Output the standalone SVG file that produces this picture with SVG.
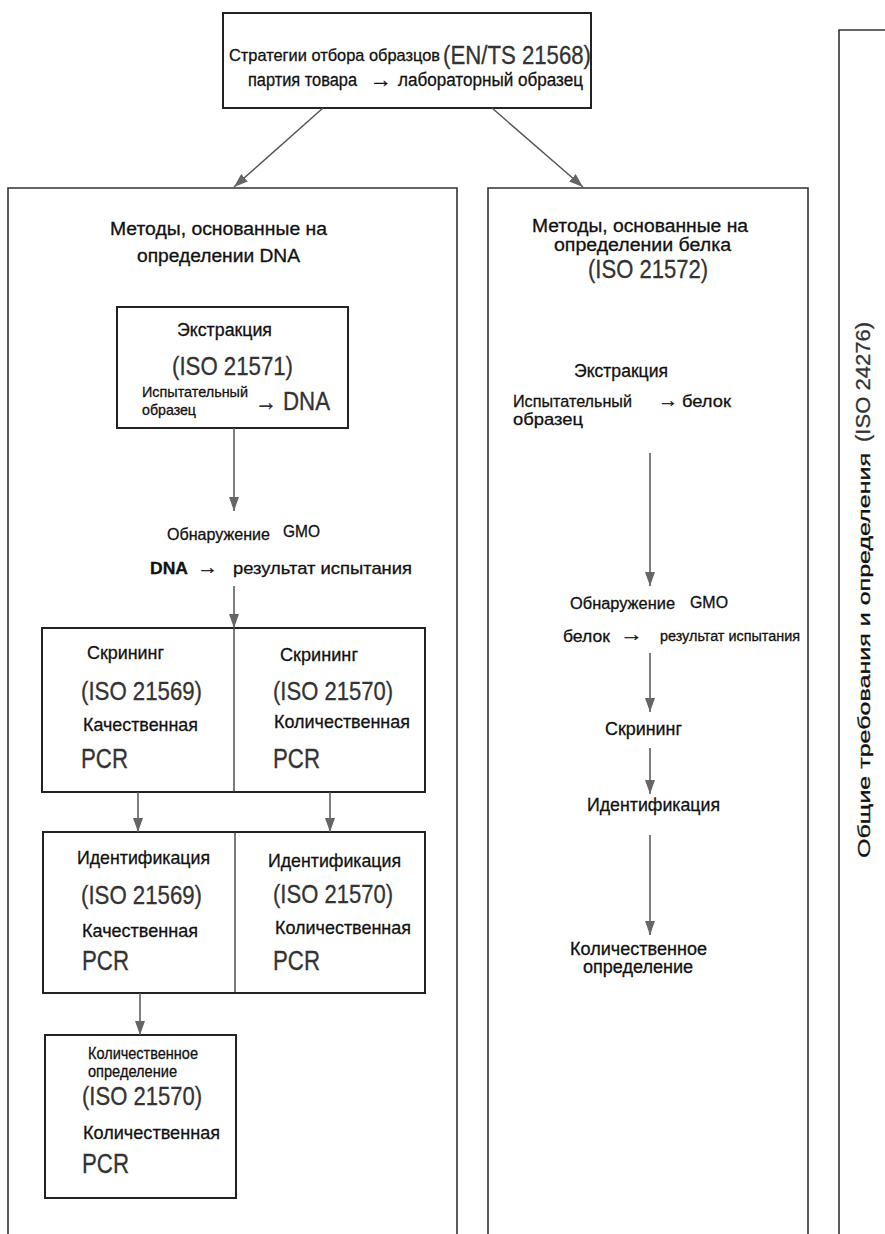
<svg xmlns="http://www.w3.org/2000/svg" width="885" height="1234" viewBox="0 0 885 1234">
<style>
text{font-family:"Liberation Sans",Arial,sans-serif;fill:#111;font-size:18px;stroke:#111;stroke-width:0.3}
.s14{font-size:14px}
.s15{font-size:15px}
.s16{font-size:16px}
.s17{font-size:17px}
.s19{font-size:19px}
.iso{font-size:25px;fill:#333;stroke:#333}
.pcr{font-size:27px;fill:#333;stroke:#333}
.box{fill:none;stroke:#222;stroke-width:2}
.frame{fill:none;stroke:#333;stroke-width:1.6}
.con line{stroke:#555;stroke-width:1.5;marker-end:url(#ah)}
.div{stroke:#333;stroke-width:1.3}
</style>
<defs>
<marker id="ah" markerUnits="userSpaceOnUse" markerWidth="14" markerHeight="10" refX="14" refY="5" orient="auto">
<path d="M0,0 L14,5 L0,10 z" fill="#666"/>
</marker>
</defs>
<rect width="885" height="1234" fill="#fff"/>

<g id="sampling">
<rect class="box" x="223" y="13" width="368" height="95"/>
<text class="s17" x="229" y="61" textLength="211" lengthAdjust="spacingAndGlyphs">Стратегии отбора образцов</text>
<text class="iso" x="443" y="64" textLength="148" lengthAdjust="spacingAndGlyphs">(EN/TS 21568)</text>
<text x="248" y="86" textLength="109" lengthAdjust="spacingAndGlyphs">партия товара</text>
<text x="370" y="87" style="font-size:22px" textLength="22" lengthAdjust="spacingAndGlyphs">→</text>
<text x="398" y="86" textLength="185" lengthAdjust="spacingAndGlyphs">лабораторный образец</text>
</g>

<g id="dna-methods">
<path class="frame" d="M8,1234 V188 H457 V1234"/>
<text x="110" y="235" textLength="217" lengthAdjust="spacingAndGlyphs">Методы, основанные на</text>
<text x="137" y="262" textLength="163" lengthAdjust="spacingAndGlyphs">определении DNA</text>
</g>

<g id="dna-extraction">
<rect class="box" x="117" y="307" width="231" height="121"/>
<text x="177" y="336" textLength="95" lengthAdjust="spacingAndGlyphs">Экстракция</text>
<text class="iso" x="172" y="375" textLength="121" lengthAdjust="spacingAndGlyphs">(ISO 21571)</text>
<text class="s15" x="142" y="397" textLength="106" lengthAdjust="spacingAndGlyphs">Испытательный</text>
<text class="s15" x="142" y="415" textLength="54" lengthAdjust="spacingAndGlyphs">образец</text>
<text x="255" y="410" style="font-size:24px;fill:#333" textLength="22" lengthAdjust="spacingAndGlyphs">→</text>
<text x="283" y="410" style="font-size:25px;fill:#333;stroke:#333" textLength="47" lengthAdjust="spacingAndGlyphs">DNA</text>
</g>

<g id="dna-detection">
<text class="s17" x="167" y="540" textLength="103" lengthAdjust="spacingAndGlyphs">Обнаружение</text>
<text class="s16" x="283" y="537" textLength="37" lengthAdjust="spacingAndGlyphs">GMO</text>
<text class="s17" x="150" y="574" textLength="38" lengthAdjust="spacingAndGlyphs" style="font-weight:bold">DNA</text>
<text x="197" y="574" style="font-size:20px" textLength="21" lengthAdjust="spacingAndGlyphs">→</text>
<text class="s17" x="233" y="574" textLength="179" lengthAdjust="spacingAndGlyphs">результат испытания</text>
</g>

<g id="dna-screening">
<rect class="box" x="42" y="628" width="383" height="164"/>
<line class="div" x1="234" y1="628" x2="234" y2="792"/>
<text class="s19" x="87" y="659" textLength="77" lengthAdjust="spacingAndGlyphs">Скрининг</text>
<text class="iso" x="81" y="700" textLength="121" lengthAdjust="spacingAndGlyphs">(ISO 21569)</text>
<text class="s19" x="83" y="731" textLength="115" lengthAdjust="spacingAndGlyphs">Качественная</text>
<text class="pcr" x="81" y="768" textLength="47" lengthAdjust="spacingAndGlyphs">PCR</text>
<text class="s19" x="280" y="661" textLength="78" lengthAdjust="spacingAndGlyphs">Скрининг</text>
<text class="iso" x="273" y="700" textLength="120" lengthAdjust="spacingAndGlyphs">(ISO 21570)</text>
<text class="s19" x="274" y="728" textLength="136" lengthAdjust="spacingAndGlyphs">Количественная</text>
<text class="pcr" x="273" y="768" textLength="47" lengthAdjust="spacingAndGlyphs">PCR</text>
</g>

<g id="dna-identification">
<rect class="box" x="43" y="832" width="382" height="161"/>
<line class="div" x1="235" y1="832" x2="235" y2="993"/>
<text class="s19" x="77" y="864" textLength="133" lengthAdjust="spacingAndGlyphs">Идентификация</text>
<text class="iso" x="81" y="904" textLength="121" lengthAdjust="spacingAndGlyphs">(ISO 21569)</text>
<text class="s19" x="82" y="937" textLength="116" lengthAdjust="spacingAndGlyphs">Качественная</text>
<text class="pcr" x="82" y="970" textLength="47" lengthAdjust="spacingAndGlyphs">PCR</text>
<text class="s19" x="268" y="867" textLength="133" lengthAdjust="spacingAndGlyphs">Идентификация</text>
<text class="iso" x="273" y="903" textLength="120" lengthAdjust="spacingAndGlyphs">(ISO 21570)</text>
<text class="s19" x="275" y="934" textLength="136" lengthAdjust="spacingAndGlyphs">Количественная</text>
<text class="pcr" x="273" y="970" textLength="47" lengthAdjust="spacingAndGlyphs">PCR</text>
</g>

<g id="dna-quantification">
<rect class="box" x="45" y="1035" width="191" height="163"/>
<text class="s16" x="88" y="1059" textLength="110" lengthAdjust="spacingAndGlyphs">Количественное</text>
<text class="s16" x="88" y="1077" textLength="89" lengthAdjust="spacingAndGlyphs">определение</text>
<text class="iso" x="82" y="1105" textLength="120" lengthAdjust="spacingAndGlyphs">(ISO 21570)</text>
<text class="s19" x="83" y="1139" textLength="137" lengthAdjust="spacingAndGlyphs">Количественная</text>
<text class="pcr" x="82" y="1173" textLength="47" lengthAdjust="spacingAndGlyphs">PCR</text>
</g>

<g id="protein-methods">
<path class="frame" d="M488,1234 V188 H808 V1234"/>
<text x="532" y="232" textLength="216" lengthAdjust="spacingAndGlyphs">Методы, основанные на</text>
<text x="554" y="251" textLength="177" lengthAdjust="spacingAndGlyphs">определении белка</text>
<text class="iso" x="588" y="278" textLength="120" lengthAdjust="spacingAndGlyphs">(ISO 21572)</text>
</g>

<g id="protein-extraction">
<text x="574" y="377" textLength="94" lengthAdjust="spacingAndGlyphs">Экстракция</text>
<text class="s17" x="513" y="407" textLength="119" lengthAdjust="spacingAndGlyphs">Испытательный</text>
<text x="658" y="407" style="font-size:20px" textLength="20" lengthAdjust="spacingAndGlyphs">→</text>
<text class="s17" x="682" y="407" textLength="49" lengthAdjust="spacingAndGlyphs">белок</text>
<text class="s17" x="513" y="425" textLength="70" lengthAdjust="spacingAndGlyphs">образец</text>
</g>

<g id="protein-detection">
<text class="s16" x="570" y="609" textLength="105" lengthAdjust="spacingAndGlyphs">Обнаружение</text>
<text class="s16" x="690" y="608" textLength="38" lengthAdjust="spacingAndGlyphs">GMO</text>
<text class="s17" x="563" y="642" textLength="47" lengthAdjust="spacingAndGlyphs">белок</text>
<text x="620" y="641" style="font-size:20px" textLength="23" lengthAdjust="spacingAndGlyphs">→</text>
<text class="s14" x="660" y="641" textLength="140" lengthAdjust="spacingAndGlyphs">результат испытания</text>
</g>

<g id="protein-screening">
<text x="605" y="735" textLength="77" lengthAdjust="spacingAndGlyphs">Скрининг</text>
</g>

<g id="protein-identification">
<text class="s19" x="587" y="811" textLength="133" lengthAdjust="spacingAndGlyphs">Идентификация</text>
</g>

<g id="protein-quantification">
<text x="570" y="955" textLength="137" lengthAdjust="spacingAndGlyphs">Количественное</text>
<text x="583" y="973" textLength="110" lengthAdjust="spacingAndGlyphs">определение</text>
</g>

<g id="general-requirements">
<path class="frame" d="M839,1234 V30 H885"/>
<text class="s16" transform="translate(870,858) rotate(-90)" textLength="405" lengthAdjust="spacingAndGlyphs">Общие требования и определения</text>
<text transform="translate(870,442) rotate(-90)" style="font-size:20px;fill:#333;stroke:#333" textLength="120" lengthAdjust="spacingAndGlyphs">(ISO 24276)</text>
</g>

<g id="connectors" class="con">
<line x1="323" y1="108" x2="234" y2="187"/>
<line x1="492" y1="108" x2="583" y2="187"/>
<line x1="234" y1="428" x2="234" y2="511"/>
<line x1="234" y1="586" x2="234" y2="628"/>
<line x1="138" y1="792" x2="138" y2="832"/>
<line x1="330" y1="792" x2="330" y2="832"/>
<line x1="140" y1="993" x2="140" y2="1035"/>
<line x1="650" y1="453" x2="650" y2="586"/>
<line x1="650" y1="653" x2="650" y2="712"/>
<line x1="650" y1="748" x2="650" y2="794"/>
<line x1="650" y1="835" x2="650" y2="935"/>
</g>
</svg>
